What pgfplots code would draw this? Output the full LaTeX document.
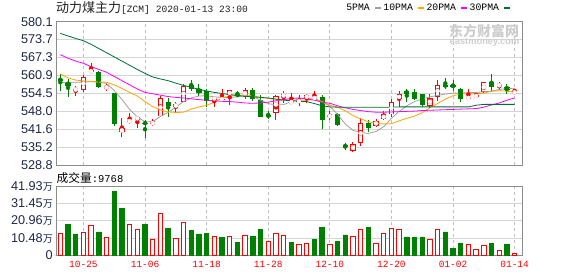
\documentclass[border=0pt]{standalone}
\usepackage{pgfplots}
\pgfplotsset{compat=1.18}
\usepackage{pgfplotstable}
\usepackage{fontspec}
\setmainfont{Liberation Sans}
\newfontfamily\cjk{Noto Sans CJK SC}
\newfontfamily\mono{Liberation Mono}
\definecolor{kred}{RGB}{255,0,0}
\definecolor{kgreen}{RGB}{0,128,0}
\definecolor{maA}{RGB}{160,160,160}
\definecolor{maB}{RGB}{255,165,0}
\definecolor{maC}{RGB}{255,0,255}
\definecolor{maD}{RGB}{0,110,50}
\definecolor{gridc}{RGB}{212,212,212}
\definecolor{vgridc}{RGB}{190,190,190}
\definecolor{axisc}{RGB}{140,140,140}
\definecolor{lblc}{RGB}{30,40,70}
\definecolor{wm}{RGB}{205,205,205}

\pgfplotstableread{
x o h l c
2 555.7 557.1 553.6 555.9
3 555.7 561.0 554.9 560.2
4 562.0 565.2 561.6 562.7
6 556.5 558.0 555.4 556.7
8 540.5 545.5 538.9 541.9
9 544.3 547.3 543.5 544.7
10 545.0 546.5 541.9 546.0
12 543.6 545.2 542.8 544.0
13 546.2 553.6 545.9 552.7
15 549.6 551.4 547.9 550.5
16 551.5 557.7 551.2 557.1
20 552.3 553.6 549.7 552.9
21 552.1 555.9 551.4 552.6
22 553.7 555.7 550.4 555.5
24 553.3 556.5 552.6 555.7
28 547.3 553.9 545.0 553.6
29 553.3 555.3 550.9 554.1
30 550.9 554.6 550.5 551.7
31 551.5 553.9 550.0 551.8
32 552.8 554.1 551.1 553.7
33 552.6 555.3 552.1 552.9
35 546.1 548.0 544.9 546.5
38 533.9 536.9 533.3 536.2
39 536.6 545.5 535.7 543.7
41 542.8 545.2 542.3 544.6
42 545.2 548.3 544.8 546.9
43 546.9 552.3 546.0 551.5
44 552.3 555.3 549.7 554.1
48 550.0 554.3 549.1 552.9
49 553.3 559.2 551.8 557.3
53 552.6 556.0 552.1 553.0
54 553.1 554.7 553.0 553.9
55 554.9 558.4 554.6 558.4
57 557.1 558.5 555.5 557.6
59 554.7 556.1 554.6 554.9
}\redK

\pgfplotstableread{
x o h l c
0 559.7 561.4 555.4 559.0
1 558.6 559.6 553.3 557.2
5 562.2 562.5 556.3 556.6
7 554.5 554.7 542.9 543.4
11 544.0 544.9 538.3 543.6
14 551.4 552.7 546.1 549.9
17 557.4 559.4 555.4 556.1
18 555.9 557.7 553.5 554.5
19 555.4 556.0 549.4 551.8
23 554.1 555.3 553.2 553.6
25 555.7 556.3 551.7 552.3
26 552.1 553.7 546.0 546.1
27 546.6 548.1 545.3 546.3
34 553.3 553.9 541.8 544.8
36 546.9 547.3 542.8 543.1
37 536.0 536.6 534.3 535.1
40 543.8 544.9 540.5 542.2
45 555.3 555.9 551.4 554.3
46 555.1 555.9 552.2 552.6
47 554.1 554.3 549.4 550.3
50 557.4 560.1 555.9 557.1
51 557.3 559.2 555.3 556.9
52 556.0 556.3 551.4 552.6
56 558.6 561.4 555.1 556.7
58 556.9 557.7 554.2 555.8
}\greenK

\pgfplotstableread{
x ma5 ma10 ma20 ma30
0 558.3 561.4 568.3 575.9
1 558.4 560.0 567.0 575.0
2 558.4 559.2 566.0 574.1
3 558.5 558.9 565.2 573.3
4 558.6 558.7 564.0 572.0
5 558.5 558.6 563.0 570.5
6 558.0 558.4 562.0 569.0
7 555.5 557.5 560.5 567.5
8 552.3 556.2 559.0 566.0
9 548.7 554.8 557.5 564.5
10 546.0 553.5 556.0 563.0
11 544.3 551.5 554.8 561.6
12 544.3 549.7 554.3 560.3
13 546.2 548.5 553.8 559.6
14 547.6 547.8 553.3 559.0
15 549.5 547.6 553.0 558.1
16 551.5 547.7 552.8 557.3
17 552.8 548.8 552.5 556.6
18 553.5 549.6 552.2 555.9
19 553.6 550.2 552.0 555.3
20 553.2 551.2 551.8 554.8
21 553.0 552.8 551.6 554.4
22 553.0 553.5 551.5 554.0
23 553.2 553.8 551.3 553.7
24 553.6 553.9 551.0 553.4
25 553.4 553.6 550.9 553.2
26 552.0 553.0 551.0 553.0
27 550.8 552.6 551.3 552.8
28 550.3 552.3 551.8 552.4
29 550.4 552.1 552.2 552.0
30 551.5 552.0 552.6 551.8
31 552.5 552.0 552.8 551.6
32 552.8 552.0 552.5 551.5
33 552.6 552.2 552.0 550.8
34 551.5 551.5 551.3 550.0
35 549.8 550.2 550.9 549.6
36 547.0 549.5 550.0 549.5
37 543.5 548.2 549.3 549.5
38 541.2 546.5 548.7 549.5
39 540.5 545.3 548.3 549.5
40 540.1 544.3 547.9 549.5
41 540.8 543.7 547.7 549.5
42 542.5 543.5 547.7 549.5
43 545.5 543.6 547.8 549.5
44 548.0 544.6 547.9 549.6
45 550.0 545.5 548.0 549.6
46 551.5 546.3 548.1 549.6
47 552.5 547.5 548.3 549.6
48 553.2 549.3 548.4 549.6
49 553.7 550.8 548.5 549.6
50 554.2 552.4 548.6 549.6
51 554.5 553.6 548.7 549.6
52 554.6 554.2 548.8 549.6
53 554.7 554.3 548.9 549.6
54 554.8 554.3 549.0 550.2
55 555.0 554.5 549.5 550.5
56 555.3 555.2 550.3 550.5
57 555.8 555.4 551.0 550.5
58 556.2 555.2 552.0 550.5
59 556.1 555.0 552.8 550.5
}\maT

\pgfplotstableread{
x v
0 13.3
3 14.1
4 18.2
6 10.9
9 18.8
10 15.7
12 9.3
13 25.4
15 10.3
16 20.0
20 11.5
22 11.5
24 12.1
27 8.1
28 13.3
29 12.1
31 6.7
32 7.3
35 6.7
38 11.7
39 15.9
41 7.3
42 13.3
43 16.3
44 15.7
48 9.7
49 15.7
53 6.5
54 3.6
55 6.1
57 3.0
59 0.98
}\redV

\pgfplotstableread{
x v
1 18.4
2 12.9
5 14.1
7 38.9
8 28.6
11 18.4
14 16.3
17 15.3
18 12.9
19 13.3
21 10.5
23 7.5
25 11.7
26 15.9
30 7.5
33 9.5
34 17.1
36 8.1
37 12.3
40 17.1
45 11.1
46 11.1
47 11.1
50 14.1
51 4.4
52 7.3
56 7.3
58 6.7
}\greenV

\pgfplotsset{
  kbase/.style={scale only axis, width=466.7pt, xmin=-0.56, xmax=60.05,
    axis line style={draw=axisc, line width=0.9pt},
    major tick length=0pt,
    xtick={3,11,19,27,35,43,51,59},
    xmajorgrids, ymajorgrids,
    x grid style={vgridc, dash pattern=on 3pt off 3pt, line width=0.8pt},
    y grid style={gridc, line width=0.8pt},
    yticklabel style={font=\fontsize{12.7}{14}\selectfont, text=lblc, inner sep=0pt, xshift=-3pt},
  },
  wick/.style={forget plot, color=#1, draw=#1, only marks, mark=none,
    error bars/.cd, y dir=both, y explicit, error mark=none,
    error bar style={draw=#1, line width=0.9pt}},
  body/.style 2 args={forget plot, color=#1, draw=#1, only marks, mark=none,
    error bars/.cd, y dir=both, y explicit, error mark=none,
    error bar style={draw=#1, line width=#2}},
}

\begin{document}
\begin{tikzpicture}
\useasboundingbox (0,0) rectangle (578pt,276pt);

\begin{axis}[kbase, at={(56pt,111pt)}, anchor=south west, height=143.3pt,
  ymin=528.8, ymax=580.1,
  ytick={528.8,535.2,541.6,548.0,554.5,560.9,567.3,573.7,580.1},
  yticklabels={528.8,535.2,541.6,548.0,554.5,560.9,567.3,573.7,580.1},
  xticklabels={},
  legend plot pos=right,
  legend columns=4,
  legend image code/.code={\draw[#1, line width=2.2pt] (0pt,0pt) -- (6pt,0pt);},
  legend style={at={(0.976,1.0935)}, anchor=east, draw=none, fill=none,
    font=\mono\fontsize{9.8}{11}\selectfont, inner sep=0pt,
    nodes={inner sep=1.5pt},
    /tikz/every odd column/.append style={column sep=2.5pt},
    /tikz/every even column/.append style={column sep=0pt}},
]
% red candles
\addplot[wick=kred] table[x=x, y expr={(\thisrow{h}+\thisrow{l})/2}, y error expr={(\thisrow{h}-\thisrow{l})/2}] {\redK};
\addplot[body={kred}{5.2pt}] table[x=x, y expr={(\thisrow{o}+\thisrow{c})/2}, y error expr={max(abs(\thisrow{c}-\thisrow{o})/2,0.2)}] {\redK};
\addplot[body={white}{3.4pt}] table[x=x, y expr={(\thisrow{o}+\thisrow{c})/2}, y error expr={max(abs(\thisrow{c}-\thisrow{o})/2-0.33,0)}] {\redK};
% green candles
\addplot[wick=kgreen] table[x=x, y expr={(\thisrow{h}+\thisrow{l})/2}, y error expr={(\thisrow{h}-\thisrow{l})/2}] {\greenK};
\addplot[body={kgreen}{5.2pt}] table[x=x, y expr={(\thisrow{o}+\thisrow{c})/2}, y error expr={max(abs(\thisrow{c}-\thisrow{o})/2,0.2)}] {\greenK};
% moving averages
\addplot[maA, line width=0.8pt, no marks] table[x=x, y=ma5] {\maT};
\addlegendentry{5PMA}
\addplot[maB, line width=0.8pt, no marks] table[x=x, y=ma10] {\maT};
\addlegendentry{10PMA}
\addplot[maC, line width=0.8pt, no marks] table[x=x, y=ma20] {\maT};
\addlegendentry{20PMA}
\addplot[maD, line width=0.8pt, no marks] table[x=x, y=ma30] {\maT};
\addlegendentry{30PMA}
\end{axis}

\begin{axis}[kbase, at={(56pt,20.7pt)}, anchor=south west, height=69.3pt,
  ymin=0, ymax=41.93,
  ytick={0,10.48,20.96,31.45,41.93},
  yticklabels={0,10.48{\cjk\fontsize{10}{12}\selectfont 万},20.96{\cjk\fontsize{10}{12}\selectfont 万},31.45{\cjk\fontsize{10}{12}\selectfont 万},41.93{\cjk\fontsize{10}{12}\selectfont 万}},
  xticklabels={10-25,11-06,11-18,11-28,12-10,12-20,01-02,01-14},
  xticklabel style={font=\mono\fontsize{9.5}{11}\selectfont, text=kred, inner sep=0pt, yshift=-6pt},
]
\addplot[forget plot, ybar, bar width=4.4pt, bar shift=0pt, draw=kred, fill=white, line width=0.9pt] table[x=x, y=v] {\redV};
\addplot[forget plot, ybar, bar width=4.4pt, bar shift=0pt, draw=kgreen, fill=kgreen, line width=0.9pt] table[x=x, y=v] {\greenV};
\end{axis}

% titles
\node[anchor=west, inner sep=0pt, text={rgb,255:red,34;green,34;blue,34}] at (56pt,267.7pt)
  {{\cjk\fontsize{13}{15}\selectfont 动力煤主力}{\mono\fontsize{9.6}{11}\selectfont [ZCM] 2020-01-13 23:00}};
\node[anchor=west, inner sep=0pt] at (56.5pt,98.3pt)
  {{\cjk\fontsize{11.7}{13}\selectfont 成交量}{\mono\fontsize{10.5}{12}\selectfont :9768}};
% watermark
\node[anchor=west, inner sep=0pt, text=wm] at (449pt,245pt) {\cjk\bfseries\fontsize{14}{16}\selectfont 东方财富网};
\node[anchor=west, inner sep=0pt, text=wm] at (449.5pt,233.5pt) {\bfseries\fontsize{9.3}{11}\selectfont eastmoney.com};
\end{tikzpicture}
\end{document}
